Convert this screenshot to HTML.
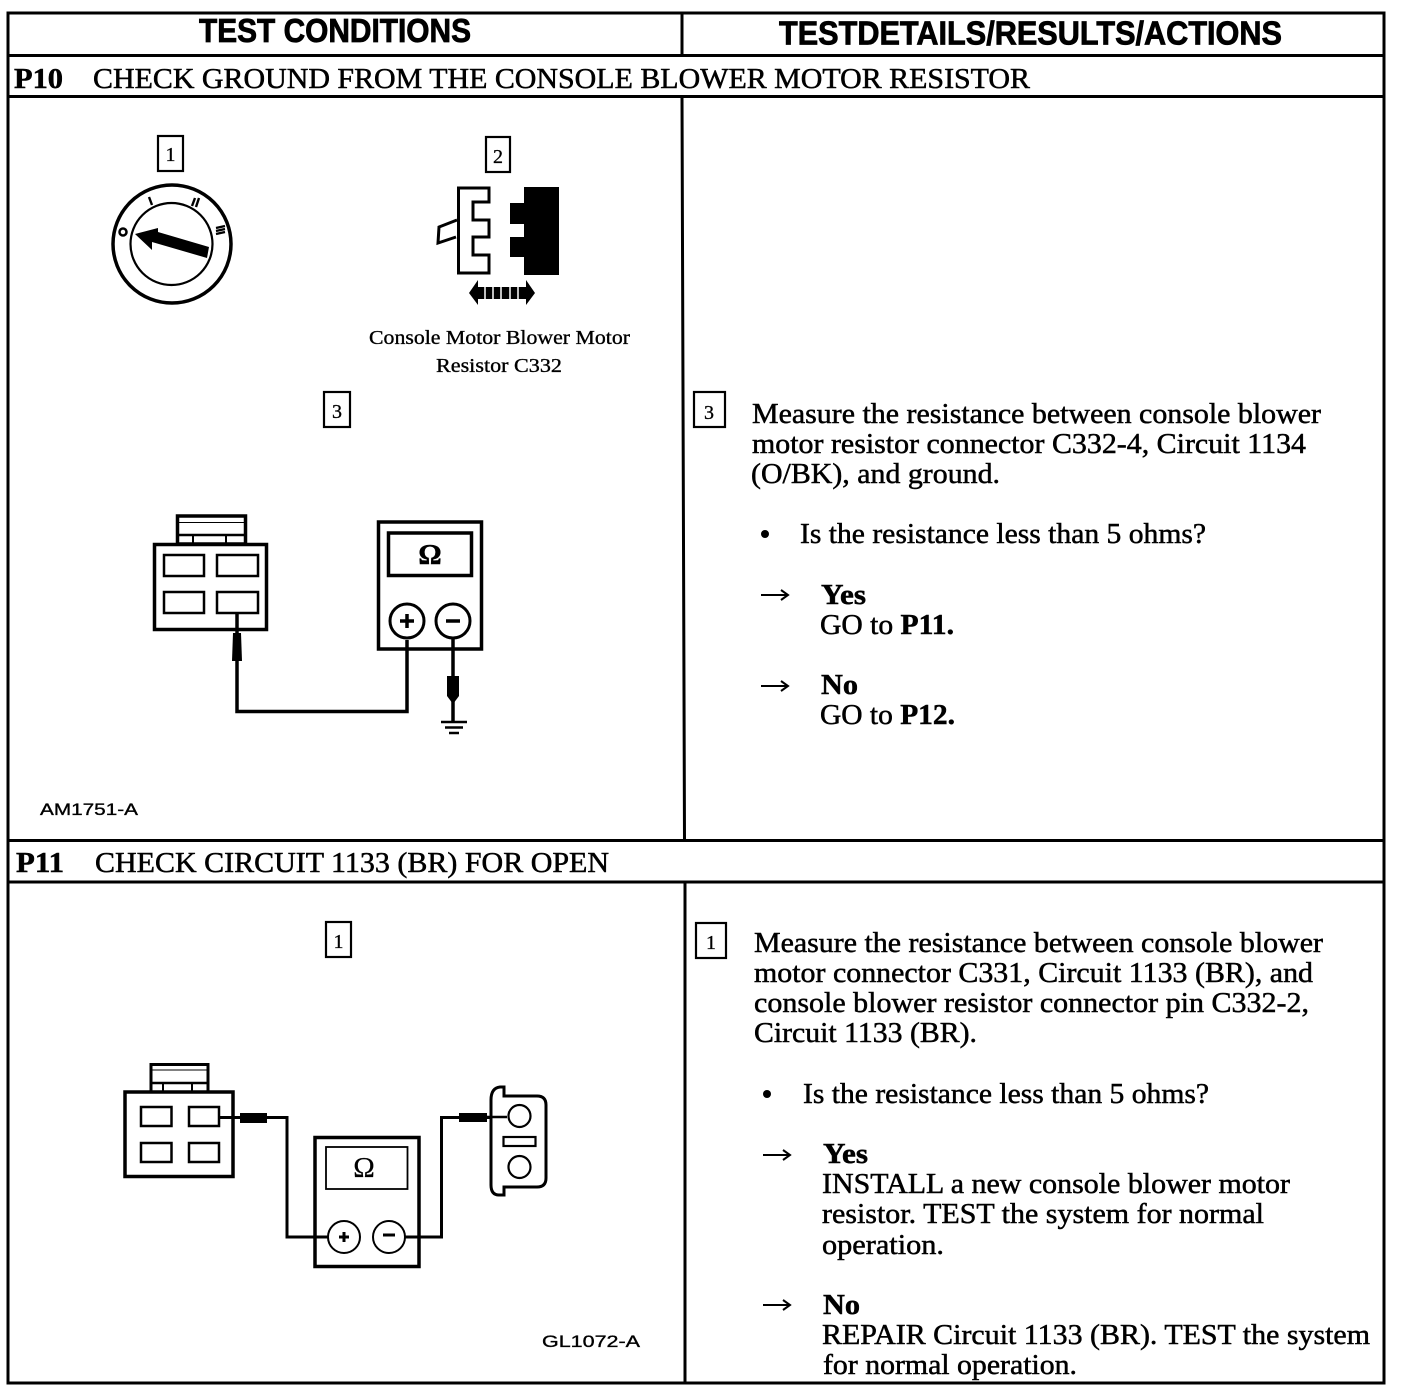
<!DOCTYPE html>
<html><head><meta charset="utf-8"><style>
html,body{margin:0;padding:0;background:#fff}
svg{display:block}
text{font-family:"Liberation Serif",serif;fill:#000;stroke:#000;stroke-width:.5}
.b{font-weight:bold}
.s{font-family:"Liberation Sans",sans-serif;font-weight:bold;stroke-width:.8}
.h{font-size:29px}
.l{font-size:20px;stroke-width:.35}
.sm{font-family:"Liberation Sans",sans-serif;font-size:17px;stroke-width:.35}
.n{font-size:20px;stroke-width:.3}
</style></head><body>
<svg width="1408" height="1400" viewBox="0 0 1408 1400" xmlns="http://www.w3.org/2000/svg">
<g fill="none" stroke="#000" stroke-width="3">
<path d="M8 13H1384V1383H8Z"/>
<path d="M8 55.500H1384M8 96.500H1384M8 840.500H1384M8 882H1384"/>
<path d="M682 13V55M682 96L684.500 840M685 882V1383"/>
</g>
<text class="s" x="199" y="42" font-size="33" textLength="272" lengthAdjust="spacingAndGlyphs">TEST CONDITIONS</text>
<text class="s" x="779" y="44.500" font-size="33" textLength="503" lengthAdjust="spacingAndGlyphs">TESTDETAILS/RESULTS/ACTIONS</text>
<text class="h b" x="14" y="88" textLength="49" lengthAdjust="spacingAndGlyphs">P10</text>
<text class="h" x="93" y="88" textLength="937" lengthAdjust="spacingAndGlyphs">CHECK GROUND FROM THE CONSOLE BLOWER MOTOR RESISTOR</text>
<text class="h b" x="16" y="872" textLength="48" lengthAdjust="spacingAndGlyphs">P11</text>
<text class="h" x="95" y="872" textLength="514" lengthAdjust="spacingAndGlyphs">CHECK CIRCUIT 1133 (BR) FOR OPEN</text>

<!-- step boxes -->
<g fill="#fff" stroke="#000" stroke-width="2.200">
<rect x="158" y="136" width="25" height="35"/>
<rect x="486" y="137" width="24" height="35"/>
<rect x="324" y="392" width="26" height="35"/>
<rect x="694" y="392" width="31" height="35"/>
<rect x="326" y="922" width="25" height="35"/>
<rect x="696" y="923" width="30" height="35"/>
</g>
<text class="n" x="170.500" y="161" text-anchor="middle">1</text>
<text class="n" x="498" y="163" text-anchor="middle">2</text>
<text class="n" x="337" y="418" text-anchor="middle">3</text>
<text class="n" x="709" y="419" text-anchor="middle">3</text>
<text class="n" x="338.500" y="948" text-anchor="middle">1</text>
<text class="n" x="711" y="949" text-anchor="middle">1</text>

<!-- ignition -->
<g fill="none" stroke="#000">
<circle cx="172" cy="244" r="59" stroke-width="3.500"/>
<circle cx="171.500" cy="244" r="41" stroke-width="2.200"/>
<path d="M149 197L152 205M192 206L195 198M196 207L199 198M216 228L225 226M216 231L225 229M216 234L225 232" stroke-width="2.400"/>
<circle cx="123" cy="232" r="3.500" stroke-width="2.500"/>
</g>
<path d="M135 234L158 228L158 232L209 247L207 258L152 242L152 250Z" fill="#000"/>

<!-- connector 2 -->
<path d="M458.500 188H489V202H473V220H489V237H473V255H489V273H458.500Z" fill="#fff" stroke="#000" stroke-width="3"/>
<path d="M457 220L439 227L438 243L456 237" fill="#fff" stroke="#000" stroke-width="3"/>
<path d="M524 187H559V275H524V257H510V237H524V224H510V203H524Z" fill="#000"/>
<path d="M469 293L478 280V305ZM535 293L526 280V305Z" fill="#000"/>
<path d="M478 287H526V299H478Z" fill="#000"/>
<path d="M485 287V299M493 287V299M501 287V299M510 287V299M518 287V299" stroke="#fff" stroke-width="1.500"/>
<text class="l" x="369" y="344" textLength="261" lengthAdjust="spacingAndGlyphs">Console Motor Blower Motor</text>
<text class="l" x="436" y="372" textLength="126" lengthAdjust="spacingAndGlyphs">Resistor C332</text>

<!-- P10 connector -->
<g fill="none" stroke="#000">
<rect x="177.500" y="516" width="68" height="28" stroke-width="3.500"/>
<path d="M178 522.500H245" stroke-width="1"/>
<path d="M178 535H245" stroke-width="2.500"/>
<path d="M193 535V544M226 535V544" stroke-width="2"/>
<rect x="154.500" y="544.500" width="112" height="85" fill="#fff" stroke-width="3.500"/>
<g stroke-width="2.500">
<rect x="164" y="555" width="40" height="21"/>
<rect x="217" y="555" width="41" height="21"/>
<rect x="164" y="592" width="40" height="21"/>
<rect x="217" y="592" width="41" height="21"/>
</g>
<path d="M237 613V711.500H407V640" stroke-width="3.500"/>
<rect x="378.500" y="522" width="103" height="127" stroke-width="3.500"/>
<rect x="388.500" y="533" width="83" height="42.500" stroke-width="3.500"/>
<circle cx="407" cy="621" r="17" stroke-width="3"/>
<circle cx="453" cy="621" r="17" stroke-width="3"/>
<path d="M453 638V722" stroke-width="3.500"/>
<path d="M441 722H467" stroke-width="2.500"/>
<path d="M445 727.500H463" stroke-width="2.500"/>
<path d="M449 733H459" stroke-width="2.500"/>
<path d="M400 621H414M407 614V628M446 621H460" stroke-width="3.500"/>
</g>
<path d="M233 633H241L242 661H232Z" fill="#000"/>
<path d="M447 676H459V696L453 704L447 696Z" fill="#000"/>
<text class="b" x="430" y="564" text-anchor="middle" style="font-size:29px">Ω</text>
<text class="sm" x="40" y="815" textLength="98" lengthAdjust="spacingAndGlyphs">AM1751-A</text>

<!-- P11 diagram -->
<g fill="none" stroke="#000">
<rect x="151" y="1064.500" width="57" height="28" stroke-width="3"/>
<path d="M152 1070H208" stroke-width="1"/>
<path d="M152 1083H208" stroke-width="2.500"/>
<path d="M163 1083V1092M192 1083V1092" stroke-width="2"/>
<rect x="125" y="1092" width="108" height="84.500" fill="#fff" stroke-width="3.500"/>
<g stroke-width="2.500">
<rect x="141" y="1107" width="30.500" height="19"/>
<rect x="189" y="1107" width="30" height="19"/>
<rect x="141" y="1143" width="30.500" height="19"/>
<rect x="189" y="1143" width="30" height="19"/>
</g>
<path d="M219 1117.500H287V1237H329" stroke-width="3"/>
<rect x="315" y="1137.500" width="104" height="129" stroke-width="3.500"/>
<rect x="326" y="1147" width="81.500" height="42" stroke-width="1.800"/>
<circle cx="344" cy="1237" r="16" stroke-width="2"/>
<circle cx="389" cy="1237" r="16" stroke-width="2"/>
<path d="M405 1237H441.500V1117.500H507" stroke-width="3"/>
<path d="M339 1237H349M344 1232V1242M383 1235H395" stroke-width="3"/>
<path d="M491 1100Q491 1088 500 1087H504V1096H537Q546 1096 546 1105V1178Q546 1187 537 1187H504V1195H499Q491 1195 491 1185Z" fill="#fff" stroke-width="3"/>
<path d="M487 1117H507" stroke-width="2.500"/>
<circle cx="519.500" cy="1116" r="11" fill="#fff" stroke-width="2.200"/>
<circle cx="519.500" cy="1167" r="11" fill="#fff" stroke-width="2.200"/>
<rect x="503.500" y="1137" width="32" height="9" fill="#fff" stroke-width="2.200"/>
</g>
<rect x="240" y="1113" width="27" height="10" fill="#000"/>
<path d="M459 1113H487V1122H459Z" fill="#000"/>
<text x="364" y="1177" text-anchor="middle" style="font-size:29px;stroke-width:.2">Ω</text>
<text class="sm" x="542" y="1347" textLength="98" lengthAdjust="spacingAndGlyphs">GL1072-A</text>

<!-- right P10 -->
<g>
<text class="h" x="752" y="423" textLength="569" lengthAdjust="spacingAndGlyphs">Measure the resistance between console blower</text>
<text class="h" x="752" y="453" textLength="554" lengthAdjust="spacingAndGlyphs">motor resistor connector C332-4, Circuit 1134</text>
<text class="h" x="751" y="483" textLength="249" lengthAdjust="spacingAndGlyphs">(O/BK), and ground.</text>
<text class="h" x="800" y="543" textLength="406" lengthAdjust="spacingAndGlyphs">Is the resistance less than 5 ohms?</text>
<text class="h b" x="821" y="604" textLength="45" lengthAdjust="spacingAndGlyphs">Yes</text>
<text class="h" x="820" y="634" textLength="134" lengthAdjust="spacingAndGlyphs">GO to <tspan class="b">P11.</tspan></text>
<text class="h b" x="821" y="694" textLength="37" lengthAdjust="spacingAndGlyphs">No</text>
<text class="h" x="820" y="724" textLength="135" lengthAdjust="spacingAndGlyphs">GO to <tspan class="b">P12.</tspan></text>
<!-- right P11 -->
<text class="h" x="754" y="952" textLength="569" lengthAdjust="spacingAndGlyphs">Measure the resistance between console blower</text>
<text class="h" x="754" y="982" textLength="559" lengthAdjust="spacingAndGlyphs">motor connector C331, Circuit 1133 (BR), and</text>
<text class="h" x="754" y="1012" textLength="555" lengthAdjust="spacingAndGlyphs">console blower resistor connector pin C332-2,</text>
<text class="h" x="754" y="1042" textLength="223" lengthAdjust="spacingAndGlyphs">Circuit 1133 (BR).</text>
<text class="h" x="803" y="1103" textLength="406" lengthAdjust="spacingAndGlyphs">Is the resistance less than 5 ohms?</text>
<text class="h b" x="823" y="1163" textLength="45" lengthAdjust="spacingAndGlyphs">Yes</text>
<text class="h" x="822" y="1193" textLength="468" lengthAdjust="spacingAndGlyphs">INSTALL a new console blower motor</text>
<text class="h" x="822" y="1223" textLength="442" lengthAdjust="spacingAndGlyphs">resistor. TEST the system for normal</text>
<text class="h" x="822" y="1254" textLength="122" lengthAdjust="spacingAndGlyphs">operation.</text>
<text class="h b" x="823" y="1314" textLength="37" lengthAdjust="spacingAndGlyphs">No</text>
<text class="h" x="822" y="1344" textLength="548" lengthAdjust="spacingAndGlyphs">REPAIR Circuit 1133 (BR). TEST the system</text>
<text class="h" x="823" y="1374" textLength="254" lengthAdjust="spacingAndGlyphs">for normal operation.</text>
</g>
<!-- bullets and arrows -->
<circle cx="765" cy="534" r="4" fill="#000"/>
<circle cx="767" cy="1094" r="4" fill="#000"/>
<g fill="none" stroke="#000" stroke-width="2">
<path d="M761 595H787M781 590L788 595L781 600"/>
<path d="M761 686H787M781 681L788 686L781 691"/>
<path d="M763 1155H789M783 1150L790 1155L783 1160"/>
<path d="M763 1305H789M783 1300L790 1305L783 1310"/>
</g>
</svg>
</body></html>
